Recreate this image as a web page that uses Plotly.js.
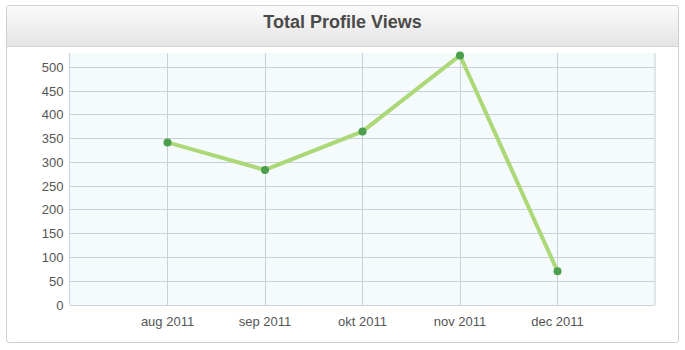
<!DOCTYPE html>
<html>
<head>
<meta charset="utf-8">
<script src="https://cdn.plot.ly/plotly-3.0.1.min.js"></script>
<style>
  html, body { margin: 0; padding: 0; background: #ffffff; }
  #wrap { position: relative; width: 685px; height: 350px; }
  #panel { position: absolute; left: 6px; top: 5px; width: 673px; height: 338px;
           border: 1px solid #cfcfcf; border-radius: 3px; background: #ffffff; box-sizing: border-box; }
  #header { position: absolute; left: 0; top: 0; right: 0; height: 40px;
            background: linear-gradient(#fbfbfb, #e4e4e4); border-bottom: 1px solid #d2d2d2; border-radius: 3px 3px 0 0; }
  #chart { position: absolute; left: 0; top: 0; width: 685px; height: 350px; }
</style>
</head>
<body>
<div id="wrap">
  <div id="panel"><div id="header"></div></div>
  <div id="chart"></div>
</div>
<script>
const categories = ["aug 2011", "sep 2011", "okt 2011", "nov 2011", "dec 2011"];
const views = [342, 284, 365, 525, 71];
const yTicks = [0, 50, 100, 150, 200, 250, 300, 350, 400, 450, 500];

const trace = {
  x: categories,
  y: views,
  type: "scatter",
  mode: "lines+markers",
  cliponaxis: false,
  line: { color: "#acd878", width: 4 },
  marker: { color: "#4a9e4c", size: 8 },
  hoverinfo: "x+y"
};

const layout = {
  width: 685,
  height: 350,
  margin: { l: 70, r: 30, t: 53, b: 45 },
  paper_bgcolor: "rgba(0,0,0,0)",
  plot_bgcolor: "#f5fbfd",
  showlegend: false,
  title: {
    text: "<b>Total Profile Views</b>",
    font: { family: "Liberation Sans, Arial, sans-serif", size: 18, color: "#4a4a4a" },
    x: 0.5, xref: "container", xanchor: "center",
    y: 0.937, yref: "container", yanchor: "middle"
  },
  xaxis: {
    type: "category",
    range: [-1, 5],
    showgrid: true,
    gridcolor: "#c9d0d6",
    gridwidth: 1,
    zeroline: false,
    showline: false,
    ticks: "",
    ticklabelstandoff: 7,
    tickfont: { family: "Liberation Sans, Arial, sans-serif", size: 13, color: "#555555" },
    fixedrange: true
  },
  yaxis: {
    range: [0, 530],
    tickvals: yTicks,
    ticktext: yTicks.map(String),
    showgrid: true,
    gridcolor: "#c9d0d6",
    gridwidth: 1,
    zeroline: true,
    zerolinecolor: "#c9d0d6",
    zerolinewidth: 1,
    showline: true,
    linecolor: "#c9d0d6",
    linewidth: 1,
    ticks: "",
    ticklabelstandoff: 3,
    tickfont: { family: "Liberation Sans, Arial, sans-serif", size: 13, color: "#555555" },
    fixedrange: true
  },
  shapes: [
    { type: "line", xref: "paper", yref: "paper", x0: 1, x1: 1, y0: 0, y1: 1,
      line: { color: "#c9d0d6", width: 1 }, layer: "below" }
  ]
};

Plotly.newPlot("chart", [trace], layout, { displayModeBar: false, staticPlot: true });
</script>
</body>
</html>
